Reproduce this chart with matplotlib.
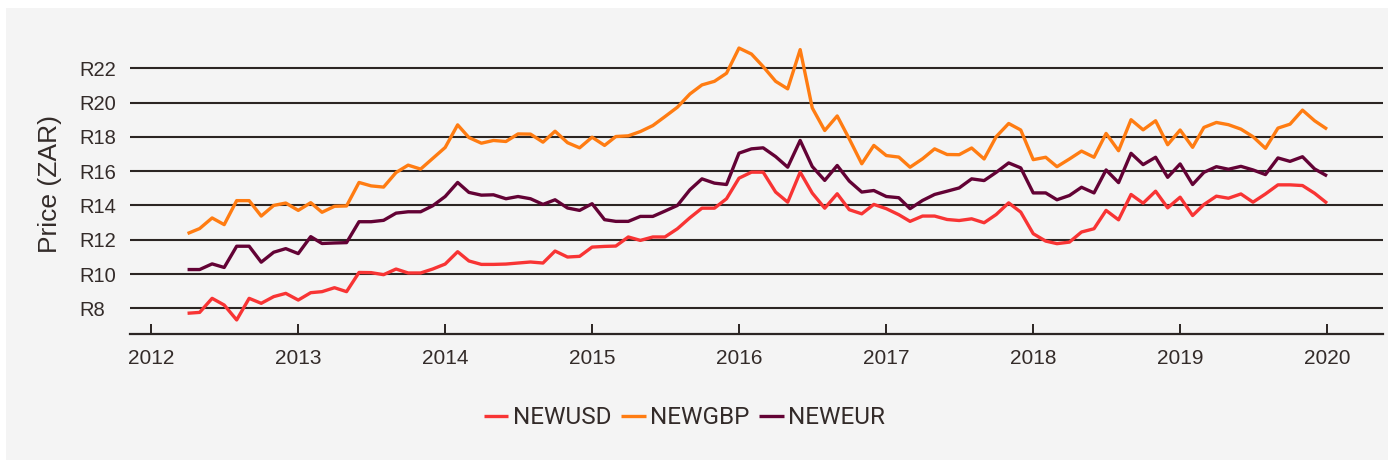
import matplotlib
matplotlib.use('Agg')
import matplotlib.pyplot as plt
import matplotlib.dates as mdates
from matplotlib.patches import Rectangle
import pandas as pd

# monthly exchange rates, Apr 2012 .. Jan 2020
dates = pd.date_range('2012-04-01', '2020-01-01', freq='MS')

usd = [7.71, 7.76, 8.58, 8.19, 7.32, 8.58, 8.29, 8.68, 8.87, 8.48,
       8.91, 8.97, 9.20, 8.97, 10.09, 10.08, 9.96, 10.29, 10.06, 10.06,
       10.29, 10.58, 11.30, 10.76, 10.56, 10.56, 10.58, 10.64, 10.70, 10.64,
       11.34, 10.99, 11.03, 11.57, 11.61, 11.63, 12.16, 11.96, 12.16, 12.16,
       12.64, 13.28, 13.84, 13.84, 14.39, 15.59, 15.94, 15.94, 14.78, 14.19,
       15.94, 14.72, 13.84, 14.68, 13.75, 13.51, 14.06, 13.81, 13.46, 13.07,
       13.38, 13.38, 13.18, 13.12, 13.22, 12.99, 13.47, 14.15, 13.61, 12.35,
       11.92, 11.77, 11.86, 12.45, 12.64, 13.71, 13.16, 14.64, 14.13, 14.83,
       13.86, 14.48, 13.41, 14.05, 14.54, 14.42, 14.67, 14.19, 14.67, 15.20,
       15.20, 15.16, 14.71, 14.13]

gbp = [12.36, 12.65, 13.27, 12.88, 14.28, 14.28, 13.38, 14.00, 14.14, 13.71,
       14.16, 13.60, 13.95, 13.97, 15.34, 15.14, 15.07, 15.92, 16.35, 16.12,
       16.74, 17.38, 18.70, 17.96, 17.63, 17.79, 17.73, 18.17, 18.16, 17.69,
       18.33, 17.66, 17.36, 17.98, 17.50, 18.02, 18.06, 18.31, 18.66, 19.18,
       19.73, 20.50, 21.03, 21.24, 21.71, 23.18, 22.83, 22.10, 21.24, 20.80,
       23.09, 19.69, 18.37, 19.22, 17.88, 16.43, 17.50, 16.91, 16.82, 16.23,
       16.72, 17.30, 16.97, 16.96, 17.35, 16.71, 18.01, 18.78, 18.40, 16.67,
       16.81, 16.26, 16.71, 17.17, 16.81, 18.20, 17.19, 19.00, 18.41, 18.94,
       17.54, 18.40, 17.39, 18.55, 18.84, 18.71, 18.45, 18.01, 17.33, 18.51,
       18.74, 19.56, 18.94, 18.45]

eur = [10.26, 10.26, 10.59, 10.38, 11.62, 11.62, 10.69, 11.27, 11.48, 11.19,
       12.18, 11.78, 11.81, 11.83, 13.05, 13.05, 13.13, 13.55, 13.63, 13.63,
       13.98, 14.52, 15.34, 14.76, 14.60, 14.62, 14.39, 14.52, 14.39, 14.06,
       14.33, 13.85, 13.71, 14.10, 13.17, 13.07, 13.07, 13.36, 13.36, 13.67,
       14.00, 14.91, 15.55, 15.30, 15.22, 17.05, 17.30, 17.36, 16.85, 16.23,
       17.79, 16.27, 15.46, 16.33, 15.42, 14.78, 14.87, 14.52, 14.45, 13.81,
       14.29, 14.64, 14.83, 15.02, 15.55, 15.45, 15.93, 16.48, 16.19, 14.73,
       14.73, 14.33, 14.58, 15.06, 14.73, 16.07, 15.33, 17.04, 16.38, 16.81,
       15.64, 16.42, 15.22, 15.93, 16.26, 16.11, 16.28, 16.07, 15.80, 16.77,
       16.57, 16.84, 16.13, 15.72]

series_names = ['NEWUSD', 'NEWGBP', 'NEWEUR']
series_colors = ['#f83434', '#ff7c12', '#630235']
y_ticks = [8, 10, 12, 14, 16, 18, 20, 22]

TEXT_COLOR = '#332b29'
GRID_COLOR = '#2b2523'

fig, ax = plt.subplots(figsize=(13.94, 4.66), dpi=100)
fig.patch.set_facecolor('white')
# grey card behind everything
fig.patches.append(Rectangle((6 / 1394, 6 / 466), 1382 / 1394, 452 / 466,
                             transform=fig.transFigure, facecolor='#f4f4f4',
                             edgecolor='none', zorder=-5))

ax.set_position([130 / 1394, 1 - 334 / 466, 1253 / 1394, 300 / 466])
ax.set_facecolor('none')

for name, values, color in zip(series_names, [usd, gbp, eur], series_colors):
    ax.plot(dates, values, color=color, lw=2.4, label=name,
            solid_joinstyle='round', solid_capstyle='butt', zorder=3)

ax.set_ylim(6.5, 24)
ax.set_xlim(pd.Timestamp('2012-01-01') - pd.Timedelta(days=52),
            pd.Timestamp('2020-01-01') + pd.Timedelta(days=139))

# horizontal grid + bottom axis line only
ax.set_yticks(y_ticks)
ax.set_yticklabels(['R%d' % t for t in y_ticks])
ax.yaxis.grid(True, color=GRID_COLOR, lw=1.5)
ax.set_axisbelow(True)
for side in ['top', 'right', 'left']:
    ax.spines[side].set_visible(False)
ax.spines['bottom'].set_color(GRID_COLOR)
ax.spines['bottom'].set_linewidth(1.6)

ax.xaxis.set_major_locator(mdates.YearLocator())
ax.xaxis.set_major_formatter(mdates.DateFormatter('%Y'))
ax.tick_params(axis='x', direction='in', length=7.5, width=1.4,
               color=GRID_COLOR, pad=11, labelsize=15, labelcolor=TEXT_COLOR)
# y labels are left aligned, starting ~51px left of the axis
ax.tick_params(axis='y', length=0, pad=36.7, labelsize=14.5,
               labelcolor=TEXT_COLOR)
for lab in ax.get_xticklabels() + ax.get_yticklabels():
    lab.set_family(['Liberation Sans', 'DejaVu Sans'])
for lab in ax.get_yticklabels():
    lab.set_horizontalalignment('left')

ax.set_ylabel('Price (ZAR)', fontsize=19, color=TEXT_COLOR,
              family=['Liberation Sans', 'DejaVu Sans'])
ax.yaxis.label.set_verticalalignment('center')
ax.yaxis.label.set_horizontalalignment('center')
ax.yaxis.set_label_coords((50 - 130) / 1253, 0.5)

leg = fig.legend(loc='center', bbox_to_anchor=(0.491, 1 - 418 / 466), ncol=3,
                 frameon=False, handlelength=1.0, handletextpad=0.17,
                 columnspacing=0.42,
                 prop={'family': ['Roboto', 'DejaVu Sans'], 'size': 17.5})
for t in leg.get_texts():
    t.set_color(TEXT_COLOR)

fig.savefig('out.png', dpi=100, facecolor=fig.get_facecolor())
